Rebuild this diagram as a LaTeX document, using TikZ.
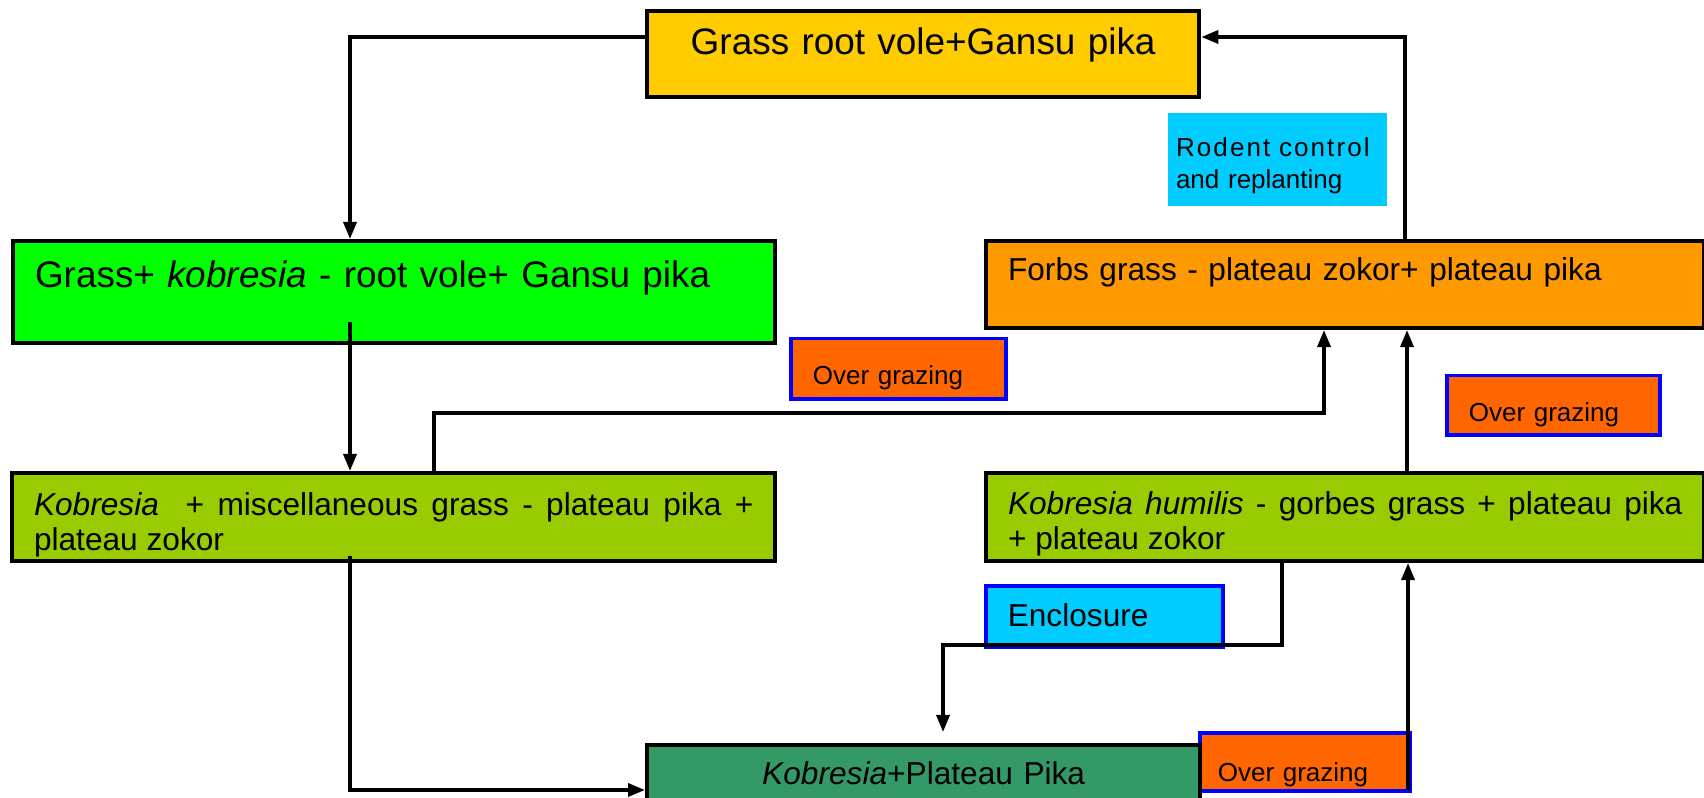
\documentclass[tikz,border=0pt]{standalone}
\usepackage{fontspec}
\setmainfont{Liberation Sans}
\usetikzlibrary{arrows.meta}

\definecolor{voleyellow}{HTML}{FFCC00}
\definecolor{grassgreen}{HTML}{00FF00}
\definecolor{forbsorange}{HTML}{FF9900}
\definecolor{measurecyan}{HTML}{00CCFF}
\definecolor{grazeorange}{HTML}{FF6600}
\definecolor{kobolive}{HTML}{99CC00}
\definecolor{pikagreen}{HTML}{339966}

\newcommand{\boxfontL}{\fontsize{10.5}{12.6}\selectfont}
\newcommand{\boxfontM}{\fontsize{9}{10.2}\selectfont}
\newcommand{\boxfontS}{\fontsize{7.4}{9.1}\selectfont}

\tikzset{
  box/.style={draw=black, line width=0.04cm, anchor=north west,
    inner ysep=0pt, inner xsep=0.22cm, align=left, font=\boxfontM},
  tag/.style={box, draw=blue, line width=0.035cm, fill=grazeorange, font=\boxfontS},
  flow/.style={line width=0.034cm, -{Triangle[length=0.17cm, width=0.13cm]}},
}

\begin{document}
\begin{tikzpicture}[x=0.01cm, y=-0.01cm]
	\useasboundingbox (0,0) rectangle (1704,798);
	
	% States
	\node[box, fill=voleyellow, font=\boxfontL, inner xsep=0pt, align=center,
		text width=5.52cm, text height=0.43cm, text depth=0.43cm] (vole) at (645,9)
		{Grass root vole+Gansu pika};
	\node[box, fill=grassgreen, font=\boxfontL,
		text width=7.18cm, text height=0.46cm, text depth=0.56cm] (grass) at (11,239)
		{Grass+ \textit{kobresia} - root vole+ Gansu pika};
	\node[box, fill=forbsorange,
		text width=6.74cm, text height=0.39cm, text depth=0.48cm] (forbs) at (984,239)
		{Forbs grass - plateau zokor+ plateau pika};
	\node[box, fill=kobolive, align=justify,
		text width=7.19cm, text height=0.42cm, text depth=0.46cm] (kobmix) at (10,471)
		{\textit{Kobresia}\ \ + miscellaneous grass - plateau pika +\linebreak plateau zokor};
	\node[box, fill=kobolive, align=justify,
		text width=6.74cm, text height=0.41cm, text depth=0.47cm] (kobhum) at (984,471)
		{\textit{Kobresia humilis} - gorbes grass + plateau pika\linebreak + plateau zokor};
	\node[tag, inner xsep=0.18cm,
		text width=1.74cm, text height=0.49cm, text depth=0.09cm] (graze3) at (1198,731)
		{Over grazing};
	\node[box, fill=pikagreen, inner xsep=0pt, align=center,
		text width=5.53cm, text height=0.39cm, text depth=0.7cm] (pika) at (645,743)
		{\textit{Kobresia}+Plateau Pika};
	
	% Measures
	\node[box, draw=none, fill=measurecyan, font=\boxfontS, inner xsep=0.08cm,
		text width=2.03cm, text height=0.43cm, text depth=0.50cm] (rodent) at (1166,111)
		{\makebox[\linewidth][s]{\addfontfeature{LetterSpace=8}Rodent control}\\and replanting};
	\node[tag, text width=1.71cm, text height=0.46cm, text depth=0.14cm] (graze1) at (789,337)
		{Over grazing};
	\node[tag, text width=1.69cm, text height=0.46cm, text depth=0.13cm] (graze2) at (1445,374)
		{Over grazing};
	\node[box, draw=blue, line width=0.035cm, fill=measurecyan,
		text width=1.93cm, text height=0.41cm, text depth=0.20cm] (enclose) at (984,584)
		{Enclosure};
	
	% Connectors
	\coordinate (c1) at (350,37);
	\coordinate (c2) at (350,322);
	\coordinate (c3) at (434,413);
	\coordinate (c4) at (1324,413);
	\coordinate (c5) at (350,556);
	\coordinate (c6) at (350,790);
	\coordinate (c7) at (1407,0);
	\coordinate (c8) at (1405,242);
	\coordinate (c9) at (1282,645);
	\coordinate (c10) at (943,645);
	\coordinate (c11) at (943,732);
	\coordinate (c12) at (1408,790);
	
	\draw[flow] (vole.west |- c1) -| (grass.north -| c1);
	\draw[flow] (c2) -- (kobmix.north -| c2);
	\draw[flow] (kobmix.north -| c3) -- (c3) -- (c4) -- (forbs.south -| c4);
	\draw[flow] (c5) |- (pika.west |- c6);
	\draw[flow] (kobhum.north -| c7) -- (forbs.south -| c7);
	\draw[flow] (c8) |- (vole.east |- c1);
	\draw[flow] (kobhum.south -| c9) -- (c9) -- (c10) -- (c11);
	\draw[flow] (c12) -- (kobhum.south -| c12);
\end{tikzpicture}
\end{document}
